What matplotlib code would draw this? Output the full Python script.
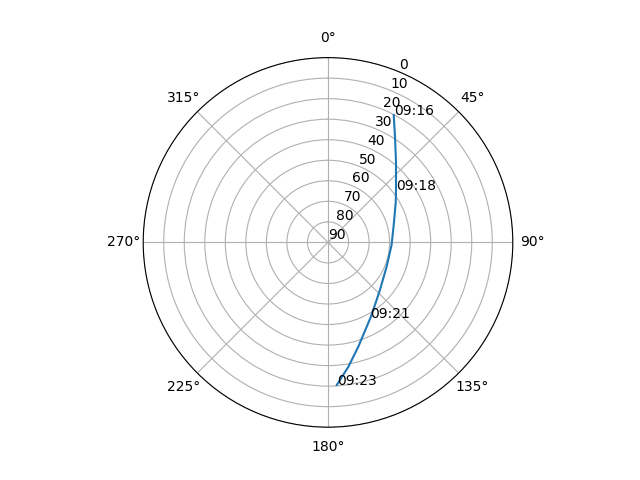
import numpy as np
import matplotlib
matplotlib.use('Agg')
import matplotlib.pyplot as plt

# satellite pass track
azimuth = [27.3, 32.8, 40.1, 52.4, 59.0, 72.6, 92.2, 112.5, 132.5, 144.2, 150.7, 163.8, 170.7, 176.5]
elevation = [20.2, 29.7, 38.6, 48.2, 51.5, 56.3, 59.0, 59.1, 55.7, 51.4, 47.8, 37.1, 28.6, 20.4]
time_labels = ['09:16', '', '', '09:18', '', '', '', '', '', '', '09:21', '', '', '09:23']

fig = plt.figure(figsize=(6.4, 4.8))
ax = fig.add_subplot(111, projection='polar')
ax.set_theta_zero_location('N')
ax.set_theta_direction(-1)

theta = np.radians(azimuth)
ax.plot(theta, elevation)

for t, e, lab in zip(theta, elevation, time_labels):
    if lab:
        ax.text(t, e, lab)

ax.set_ylim(90, 0)
ax.set_yticks(range(0, 91, 10))

fig.savefig('out.png', dpi=100)
